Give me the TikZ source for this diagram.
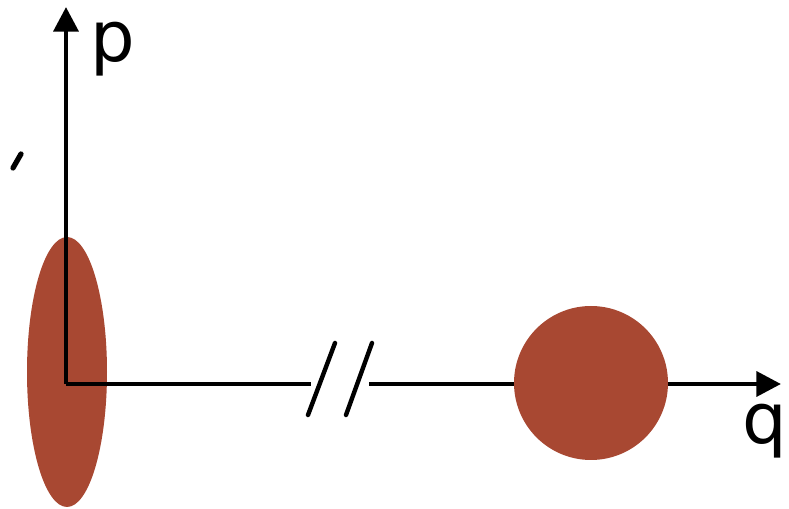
\documentclass[tikz,border=0pt]{standalone}
\usepackage{fontspec}
\setmainfont{DejaVu Sans}
\usetikzlibrary{arrows.meta}
\definecolor{blob}{HTML}{A84832}
\tikzset{
  axis/.style={line width=2.7pt, -{Triangle[length=14pt,width=14pt]}},
  plain/.style={line width=2.7pt},
  slash/.style={line width=2.5pt, line cap=round},
  lbl/.style={font=\fontsize{40}{48}\selectfont, inner sep=0pt}
}
\begin{document}
\begin{tikzpicture}[x=0.02cm,y=-0.02cm]
\useasboundingbox (0,0) rectangle (789,509);
\coordinate (O) at (66,384);
\coordinate (Ptip) at (66,7);
\coordinate (Qtip) at (781,384);
\coordinate (B1) at (311,384);
\coordinate (B2) at (369,384);
% ellipse blob
\coordinate (E) at (67,372);
\fill[blob] (E) ellipse [x radius=40, y radius=135];
% axes
\draw[axis] (O) -- (Ptip);
\draw[plain] (O) -- (B1);
\draw[axis] (B2) -- (Qtip);
% circle blob
\coordinate (C) at (591,383);
\fill[blob] (C) circle [radius=77];
% break slashes
\coordinate (s1a) at (308,415); \coordinate (s1b) at (335,343);
\coordinate (s2a) at (346,415); \coordinate (s2b) at (372,343);
\draw[slash] (s1a) -- (s1b);
\draw[slash] (s2a) -- (s2b);
% tick mark
\coordinate (t1) at (13,168); \coordinate (t2) at (21,154);
\draw[slash, line width=3pt] (t1) -- (t2);
% labels
\node[lbl, anchor=base west] (p) at (90,62) {p};
\node[lbl, anchor=base west] (q) at (742,444) {q};
\end{tikzpicture}
\end{document}
